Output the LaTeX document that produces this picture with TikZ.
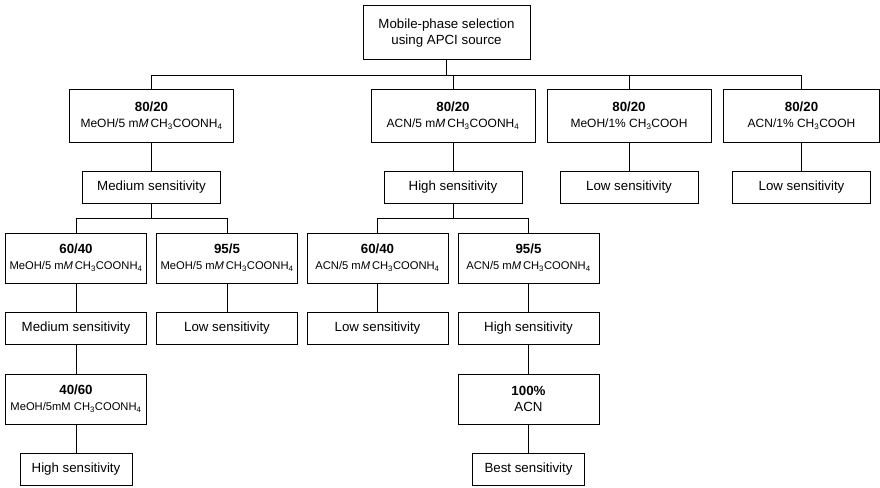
\documentclass[tikz,border=0pt]{standalone}
\usepackage{fontspec}
\setmainfont{Liberation Sans}
\usetikzlibrary{positioning,calc}

\newcommand{\acetate}{CH\textsubscript{3}COONH\textsubscript{4}}
\newcommand{\acid}{CH\textsubscript{3}COOH}
\newcommand{\mmol}{m\textit{M}}
\newcommand{\mixbig}[2]{\textbf{#1}\\{\fontsize{12}{15.7}\selectfont #2}}
\newcommand{\mixsmall}[2]{\textbf{#1}\\{\fontsize{11.2}{16}\selectfont #2}}

\begin{document}
\begin{tikzpicture}[
            x=1pt, y=1pt,
            node distance=29.5pt,
            every node/.style={font=\fontsize{13.3}{16}\selectfont},
            box/.style={draw, rectangle, line width=1pt, align=center, inner sep=0pt, outer sep=0pt},
            mix/.style={box, minimum width=164pt, minimum height=53pt},
            mixs/.style={box, minimum width=141pt, minimum height=50pt},
            sens/.style={box, minimum width=138pt, minimum height=32pt},
            sensw/.style={sens, minimum width=141pt},
            endbox/.style={box, minimum width=112pt, minimum height=32pt},
            link/.style={line width=1pt}
        ]
            \useasboundingbox (0,0) rectangle (880,-487);

            \node[mix, minimum width=167pt, minimum height=54pt] (root) at (446.5,-33) {Mobile-phase selection\\using APCI source};

            % first choice of mobile phase
            \node[mix] (mA) at (151.5,-115.5) {\mixbig{80/20}{MeOH/5 \mmol\,\acetate}};
            \node[mix] (mB) at (453,-115.5) {\mixbig{80/20}{ACN/5 \mmol\,\acetate}};
            \node[mix] (mC) at (629,-115.5) {\mixbig{80/20}{MeOH/1\% \acid}};
            \node[mix, minimum width=156pt] (mD) at (801.5,-115.5) {\mixbig{80/20}{ACN/1\% \acid}};

            \node[sens, below=of mA] (sA) {Medium sensitivity};
            \node[sens, below=of mB] (sB) {High sensitivity};
            \node[sens, below=of mC] (sC) {Low sensitivity};
            \node[sens, below=of mD] (sD) {Low sensitivity};

            % second step
            \node[mixs, below=of sA, xshift=-75.5pt] (rE) {\mixsmall{60/40}{MeOH/5 \mmol\,\acetate}};
            \node[mixs, below=of sA, xshift=75.5pt] (rF) {\mixsmall{95/5}{MeOH/5 \mmol\,\acetate}};
            \node[mixs, below=of sB, xshift=-75.5pt] (rG) {\mixsmall{60/40}{ACN/5 \mmol\,\acetate}};
            \node[mixs, below=of sB, xshift=75.5pt] (rH) {\mixsmall{95/5}{ACN/5 \mmol\,\acetate}};

            \node[sensw, below=of rE] (sE) {Medium sensitivity};
            \node[sensw, below=of rF] (sF) {Low sensitivity};
            \node[sensw, below=of rG] (sG) {Low sensitivity};
            \node[sensw, below=of rH] (sH) {High sensitivity};

            % last step
            \node[mixs, below=of sE] (rI) {\mixsmall{40/60}{MeOH/5mM \acetate}};
            \node[mixs, below=of sH] (rJ) {\textbf{100\%}\\ACN};
            \node[endbox, below=of rI] (eI) {High sensitivity};
            \node[endbox, below=of rJ] (eJ) {Best sensitivity};

            \coordinate (bus) at (0,-75);
            \coordinate (forkA) at ($(sA.south)!0.5!(sA.south |- rE.north)$);
            \coordinate (forkB) at ($(sB.south)!0.5!(sB.south |- rG.north)$);

            \draw[link] (root.south) -- (root.south |- bus);
            \draw[link] (mA.north) |- (bus -| mD.north) -- (mD.north);
            \foreach \n in {mB,mC}
                \draw[link] (\n.north) -- (\n.north |- bus);
            \foreach \n in {A,B,C,D}
                \draw[link] (m\n) -- (s\n);

            \draw[link] (sA.south) -- (forkA);
            \draw[link] (rE.north) |- (forkA) -| (rF.north);
            \draw[link] (sB.south) -- (forkB);
            \draw[link] (rG.north) |- (forkB) -| (rH.north);

            \foreach \n in {E,F,G,H}
                \draw[link] (r\n) -- (s\n);
            \draw[link] (sE) -- (rI);
            \draw[link] (rI) -- (eI);
            \draw[link] (sH) -- (rJ);
            \draw[link] (rJ) -- (eJ);
        \end{tikzpicture}
\end{document}
